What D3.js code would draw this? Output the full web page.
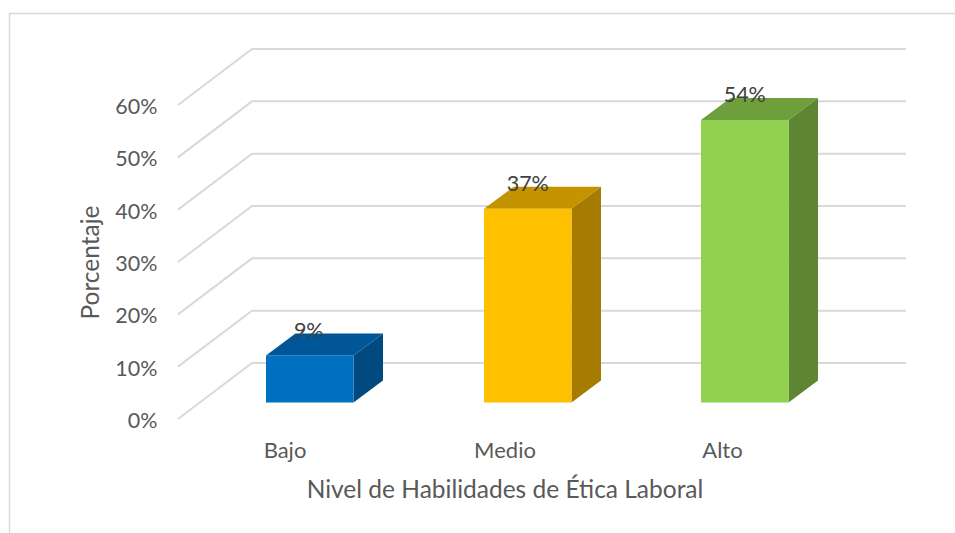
<!DOCTYPE html>
<html><head><meta charset="utf-8">
<script src="https://cdn.jsdelivr.net/npm/d3@7"></script>
<style>html,body{margin:0;padding:0;background:#fff}svg{display:block}text{font-family:Lato,"Open Sans",sans-serif;fill:#595959}</style>
</head><body><svg id="c" width="955" height="533"></svg>
<script>
const categories = ["Bajo","Medio","Alto"];
const values = [9,37,54];
const valueLabels = ["9%","37%","54%"];
const ticks = [0,10,20,30,40,50,60];
const frontColors = ["#0070c0","#ffc000","#92d050"];
const topColors = ["#005696","#c49300","#6f9e3c"];
const sideColors = ["#004a80","#a67c00","#5e8531"];
const xTitle = "Nivel de Habilidades de Ética Laboral";
const yTitle = "Porcentaje";

const svg = d3.select("#c");
const W=955,H=533;
const yBack = d3.scaleLinear().domain([0,60]).range([363,49]);
const xBack = [252,906];
const wall = {dx:-74, dy:56};
const barBase = 402.5, barDepth = {dx:29.5, dy:-22};
const h = v => yBack(0)-yBack(v);
const xPos = {Bajo:266,Medio:484,Alto:701};
const barW = 87.5;

svg.append("path").attr("d",`M9.5,${H}V13.5H${W}`).attr("fill","none").attr("stroke","#d9d9d9").attr("stroke-width",1.5);

const grid = svg.append("g").attr("fill","none").attr("stroke","#d9d9d9").attr("stroke-width",2);
ticks.forEach(t=>{
  const y=yBack(t);
  grid.append("path").attr("d",`M${xBack[0]+wall.dx},${y+wall.dy}L${xBack[0]},${y}H${xBack[1]}`);
});
svg.append("g").selectAll("text").data(ticks).join("text")
  .attr("x",157.5).attr("y",t=>yBack(t)+wall.dy+9)
  .attr("text-anchor","end").attr("font-size",21.5).text(t=>t+"%");

const bars = svg.append("g").selectAll("g").data(categories).join("g");
bars.each(function(c,i){
  const g=d3.select(this), x0=xPos[c], x1=x0+barW, yt=barBase-h(values[i]);
  const {dx,dy}=barDepth;
  g.append("path").attr("fill",sideColors[i]).attr("d",`M${x1},${barBase}V${yt}L${x1+dx},${yt+dy}V${barBase+dy}Z`);
  g.append("path").attr("fill",topColors[i]).attr("d",`M${x0},${yt}L${x0+dx},${yt+dy}H${x1+dx}L${x1},${yt}Z`);
  g.append("rect").attr("fill",frontColors[i]).attr("x",x0).attr("y",yt).attr("width",barW).attr("height",h(values[i]));
  g.append("text").attr("x",x0+barW/2+(i==0?-1:0)).attr("y",yt-17.5).attr("text-anchor","middle")
    .attr("font-size",21.5).style("fill","#404040").text(valueLabels[i]);
});
const catX={Bajo:285,Medio:505,Alto:722.5};
svg.append("g").selectAll("text").data(categories).join("text")
  .attr("x",c=>catX[c]).attr("y",458).attr("text-anchor","middle").attr("font-size",22).text(c=>c);
svg.append("text").attr("x",505).attr("y",498).attr("text-anchor","middle").attr("font-size",24.5).text(xTitle);
svg.append("text").attr("transform","translate(99,262.5) rotate(-90)").attr("text-anchor","middle").attr("font-size",24.5).text(yTitle);
</script></body></html>
